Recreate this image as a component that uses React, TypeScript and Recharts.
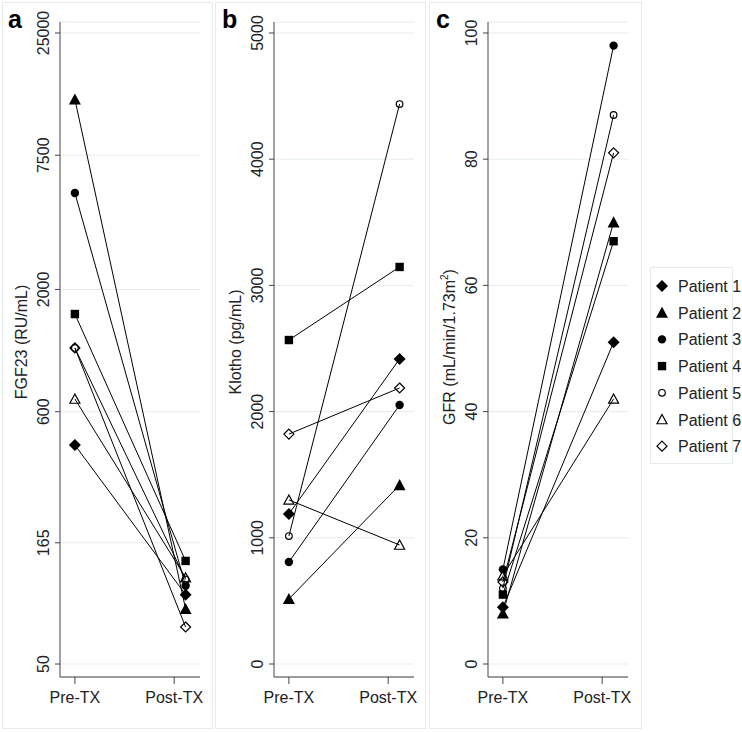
import React from 'react';
import { LineChart, Line, XAxis, YAxis, CartesianGrid } from 'recharts';

const categories = ['Pre-TX', 'Post-TX'];
const patients = ['Patient 1', 'Patient 2', 'Patient 3', 'Patient 4', 'Patient 5', 'Patient 6', 'Patient 7'];

const fgf23Pre = [432, 13000, 5170, 1570, 1124, 680, 1124];
const fgf23Post = [99, 86, 108, 138, 115, 117, 72];
const klothoPre = [1189, 515, 808, 2567, 1014, 1300, 1822];
const klothoPost = [2417, 1418, 2052, 3146, 4437, 943, 2187];
const gfrPre = [9, 8, 15, 11, 12, 14, 13];
const gfrPost = [51, 70, 98, 67, 87, 42, 81];

const fgf23Ticks = [50, 165, 600, 2000, 7500, 25000];
const klothoTicks = [0, 1000, 2000, 3000, 4000, 5000];
const gfrTicks = [0, 20, 40, 60, 80, 100];

// x positions of the two time points (post points sit a little right of their tick)
const PRE_X = 0;
const POST_X = 1.115;

const shapes = ['diamond', 'triangle', 'circle', 'square', 'circle', 'triangle', 'diamond'];
const filled = [true, true, true, true, false, false, false];

const FONT = '"Liberation Sans", Arial, Helvetica, sans-serif';
const GRID = '#e4ecec';
const AXIS = '#444';

const Marker = ({ cx, cy, shape, solid }: any) => {
  if (cx == null || cy == null) return null;
  const fill = solid ? '#000' : 'none';
  const sw = solid ? 0 : 1.2;
  if (shape === 'diamond') {
    const h = solid ? 6 : 5;
    return <polygon points={`${cx},${cy - h} ${cx + h},${cy} ${cx},${cy + h} ${cx - h},${cy}`} fill={fill} stroke="#000" strokeWidth={sw} />;
  }
  if (shape === 'triangle') {
    const h = solid ? 6 : 5;
    return <polygon points={`${cx},${cy - h} ${cx + h},${cy + h * 0.85} ${cx - h},${cy + h * 0.85}`} fill={fill} stroke="#000" strokeWidth={sw} />;
  }
  if (shape === 'square') {
    return <rect x={cx - 4.2} y={cy - 4.2} width={8.4} height={8.4} fill="#000" />;
  }
  return <circle cx={cx} cy={cy} r={solid ? 4.2 : 3.3} fill={fill} stroke="#000" strokeWidth={sw} />;
};

const YTick = ({ x, y, payload }: any) => (
  <text x={x} y={y} transform={`rotate(-90 ${x} ${y})`} textAnchor="middle" fontSize={16} fill="#222" fontFamily={FONT}>
    {payload.value}
  </text>
);

interface PanelProps {
  left: number;
  width: number;
  pre: number[];
  post: number[];
  ticks: number[];
  domain: [number, number];
  log?: boolean;
}

const Panel = ({ left, width, pre, post, ticks, domain, log }: PanelProps) => {
  const rows = [PRE_X, POST_X].map((x, r) => {
    const row: any = { x };
    patients.forEach((_, i) => {
      row['p' + i] = r === 0 ? pre[i] : post[i];
    });
    return row;
  });
  return (
    <div style={{ position: 'absolute', left, top: 0 }}>
      <LineChart width={width} height={730} data={rows} margin={{ top: 22, right: width - 200, bottom: 0, left: 0 }}>
        <CartesianGrid vertical={false} stroke={GRID} strokeWidth={1} />
        <XAxis
          dataKey="x"
          type="number"
          domain={[-0.15, 1.26]}
          ticks={[0, 1]}
          interval={0}
          tickFormatter={(v: number) => categories[v]}
          height={53}
          tickSize={7}
          tickMargin={8}
          stroke={AXIS}
          tick={{ fontSize: 16, fill: '#222', fontFamily: FONT }}
        />
        <YAxis
          type="number"
          scale={log ? 'log' : 'auto'}
          domain={domain}
          allowDataOverflow
          ticks={ticks}
          interval={0}
          width={60}
          tickSize={5}
          tickMargin={6}
          stroke={AXIS}
          tick={<YTick />}
        />
        {patients.map((p, i) => (
          <Line
            key={p}
            dataKey={'p' + i}
            stroke="#000"
            strokeWidth={1}
            isAnimationActive={false}
            dot={(props: any) => <Marker key={p + props.index} cx={props.cx} cy={props.cy} shape={shapes[i]} solid={filled[i]} />}
            activeDot={false}
          />
        ))}
      </LineChart>
    </div>
  );
};

const frames = [
  { left: 2, width: 211 },
  { left: 215, width: 211 },
  { left: 429, width: 213 },
];

const titleStyle = { fontFamily: FONT, fontSize: 16, fill: '#222' };

export default function App() {
  return (
    <div style={{ position: 'absolute', left: 0, top: 0, width: 742, height: 732, background: '#fff', fontFamily: FONT }}>
      {frames.map((f, i) => (
        <div key={i} style={{ position: 'absolute', left: f.left, top: 2, width: f.width, height: 727, border: `1px solid ${GRID}`, boxSizing: 'border-box' }} />
      ))}
      <Panel left={0} width={213} pre={fgf23Pre} post={fgf23Post} ticks={fgf23Ticks} domain={[44, 27860]} log />
      <Panel left={214} width={214} pre={klothoPre} post={klothoPost} ticks={klothoTicks} domain={[-103, 5087]} />
      <Panel left={428} width={214} pre={gfrPre} post={gfrPost} ticks={gfrTicks} domain={[-2.06, 101.74]} />
      <svg width={742} height={732} style={{ position: 'absolute', left: 0, top: 0, pointerEvents: 'none' }}>
        <text x={8} y={28} fontSize={25} fontWeight="bold" fontFamily={FONT} fill="#000">a</text>
        <text x={222} y={28} fontSize={25} fontWeight="bold" fontFamily={FONT} fill="#000">b</text>
        <text x={436} y={28} fontSize={25} fontWeight="bold" fontFamily={FONT} fill="#000">c</text>
        <text x={27} y={342} transform="rotate(-90 27 342)" textAnchor="middle" {...titleStyle}>FGF23 (RU/mL)</text>
        <text x={241} y={342} transform="rotate(-90 241 342)" textAnchor="middle" {...titleStyle}>Klotho (pg/mL)</text>
        <text x={455} y={347} transform="rotate(-90 455 347)" textAnchor="middle" {...titleStyle}>
          GFR (mL/min/1.73m<tspan dy={-7} fontSize={10}>2</tspan><tspan dy={7}>)</tspan>
        </text>
      </svg>
      <div style={{ position: 'absolute', left: 650, top: 267, width: 83, height: 197, border: `1px solid ${GRID}`, boxSizing: 'border-box' }} />
      <svg width={742} height={732} style={{ position: 'absolute', left: 0, top: 0, pointerEvents: 'none' }}>
        {patients.map((p, i) => {
          const cy = 286 + i * 26.7;
          return (
            <g key={p}>
              <Marker cx={662} cy={cy} shape={shapes[i]} solid={filled[i]} />
              <text x={678} y={cy + 6} fontSize={16} fontFamily={FONT} fill="#222">{p}</text>
            </g>
          );
        })}
      </svg>
    </div>
  );
}
